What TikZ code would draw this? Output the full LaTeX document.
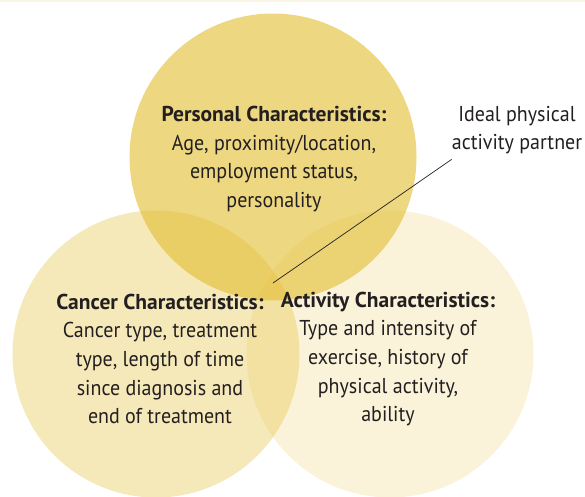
\documentclass[tikz,border=0pt]{standalone}
\usepackage{fontspec}
\setmainfont{PT Sans}[FakeStretch=0.93, BoldFeatures={FakeStretch=1.0}]
\usepackage{tikz}
\usetikzlibrary{positioning}
\definecolor{Gold}{RGB}{226,190,50}
\definecolor{TextGrey}{RGB}{35,31,32}
\definecolor{TopRule}{RGB}{250,246,228}

\begin{document}
\begin{tikzpicture}[
 x=1pt, y=-1pt,
 venn/.style = {circle, minimum size=287pt, inner sep=0pt, fill=Gold},
 label/.style = {align=center, text=TextGrey, font=\fontsize{21.5}{28.7}\selectfont},
                        ]
    \useasboundingbox (0,0) rectangle (585,496);
    \draw [TopRule, line width=2pt] (0,1) -- (585,1);

    % the three sets
    \node [venn, fill opacity=0.34] (cancer) at (156,354) {};
    \node [venn, fill opacity=0.18] (activity) at (390,354) {};
    \node [venn, fill opacity=0.62] (personal) at (273,157) {};

    \node [label] (personalText) at (274,159)
        {\textbf{Personal Characteristics:}\\Age, proximity/location,\\employment status,\\personality};
    \node [label] (cancerText) at (160,359)
        {\textbf{Cancer Characteristics:}\\Cancer type, treatment\\type, length of time\\since diagnosis and\\end of treatment};
    \node [label] (activityText) at (388,359)
        {\textbf{Activity Characteristics:}\\Type and intensity of\\exercise, history of\\physical activity,\\ability};

    % centre of the diagram
    \coordinate (centre) at (273,283);
    \node [label, inner sep=1pt] (partner) at (517,130) {Ideal physical\\activity partner};
    \draw [TextGrey, line width=0.7pt] (centre) -- ([xshift=1pt,yshift=-4pt]partner.south west);

\end{tikzpicture}
\end{document}
